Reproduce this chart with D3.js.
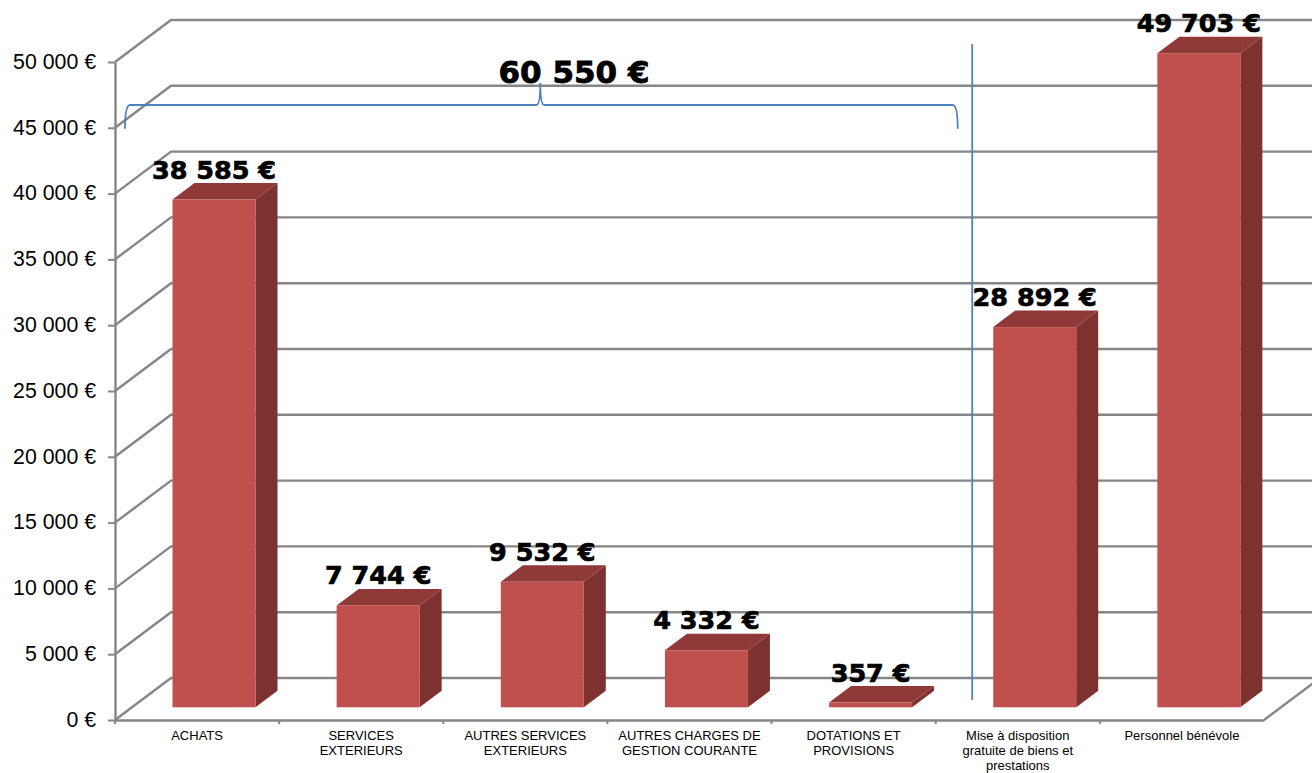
<!DOCTYPE html>
<html lang="fr">
<head>
    <meta charset="UTF-8">
    <title>Charges par poste</title>
    <script src="https://d3js.org/d3.v7.min.js"></script>
    <style>
        body { margin: 0; background: #fff; }
        svg { display: block; }
        text { font-family: "Liberation Sans", Arial, sans-serif; fill: #000; }
        .grid { fill: none; stroke: #868686; stroke-width: 2.4; }
        .value-label { font-family: "DejaVu Sans", Verdana, sans-serif; font-weight: bold; font-size: 25.5px; text-anchor: middle; stroke: #000; stroke-width: 0.7; }
        .total-label { font-family: "DejaVu Sans", Verdana, sans-serif; font-weight: bold; font-size: 31px; text-anchor: middle; stroke: #000; stroke-width: 0.8; }
        .note { fill: none; stroke: #4f81bd; stroke-width: 1.8; }
    </style>
</head>
<body>
    <svg width="1312" height="773"></svg>

    <script>
        // Chart data
        const categories = ["ACHATS", "SERVICES EXTERIEURS", "AUTRES SERVICES EXTERIEURS",
            "AUTRES CHARGES DE GESTION COURANTE", "DOTATIONS ET PROVISIONS",
            "Mise à disposition gratuite de biens et prestations", "Personnel bénévole"];
        const tickLines = [["ACHATS"], ["SERVICES", "EXTERIEURS"], ["AUTRES SERVICES", "EXTERIEURS"],
            ["AUTRES CHARGES DE", "GESTION COURANTE"], ["DOTATIONS ET", "PROVISIONS"],
            ["Mise à disposition", "gratuite de biens et", "prestations"], ["Personnel bénévole"]];
        const values = [38585, 7744, 9532, 4332, 357, 28892, 49703];
        const yTicks = [0, 5000, 10000, 15000, 20000, 25000, 30000, 35000, 40000, 45000, 50000];
        const groupedTotal = 60550;

        const svg = d3.select("svg");
        const fr = d3.formatLocale({ decimal: ",", thousands: " ", grouping: [3], currency: ["", " €"] });
        const euro = d => fr.format(",")(d) + " €";

        // Scales on the front plane of the chart
        const x = d3.scaleBand().domain(categories).range([115, 1264]);
        const y = d3.scaleLinear().domain([0, 50000]).range([720, 62]);

        // 3D offsets: back wall and bar depth
        const wall = { dx: 56, dy: -42 };
        const depth = { dx: 22, dy: -16.5 };
        const barShift = { left: 57.5, width: 83, up: 12.7 };

        // Walls and gridlines
        svg.append("g").selectAll("path")
            .data(yTicks)
            .join("path")
            .attr("class", "grid")
            .attr("d", d => `M${x.range()[0]},${y(d)}l${wall.dx},${wall.dy}H1330`);

        // Right edge of the floor
        svg.append("path")
            .attr("class", "grid")
            .attr("d", `M${x.range()[1]},${y(0)}l${wall.dx},${wall.dy}`);

        // Axes
        const yAxis = svg.append("g")
            .attr("transform", `translate(${x.range()[0]},0)`)
            .call(d3.axisLeft(y).tickValues(yTicks).tickFormat(euro).tickSize(7).tickPadding(12).tickSizeOuter(0));
        yAxis.selectAll("text").attr("font-size", 21.3).attr("font-family", "Liberation Sans").attr("dy", "0.30em");
        yAxis.selectAll("line").attr("stroke", "#868686").attr("stroke-width", 2);
        yAxis.select(".domain").attr("stroke", "#868686").attr("stroke-width", 2.4);

        const xAxis = svg.append("g")
            .attr("transform", `translate(0,${y(0)})`)
            .call(d3.axisBottom(x).tickSize(0).tickFormat(""));
        xAxis.select(".domain").attr("stroke", "#868686").attr("stroke-width", 2.4);
        xAxis.selectAll(".edge")
            .data(categories)
            .join("line")
            .attr("class", "edge")
            .attr("x1", d => x(d))
            .attr("x2", d => x(d))
            .attr("y1", 0)
            .attr("y2", 4)
            .attr("stroke", "#868686")
            .attr("stroke-width", 2);

        const tickText = xAxis.selectAll(".cat")
            .data(categories)
            .join("text")
            .attr("class", "cat")
            .attr("text-anchor", "middle")
            .attr("font-size", 13)
            .attr("x", d => x(d) + x.bandwidth() / 2)
            .attr("y", 20);
        tickText.selectAll("tspan")
            .data((d, i) => tickLines[i])
            .join("tspan")
            .attr("x", function () { return d3.select(this.parentNode).attr("x"); })
            .attr("dy", (d, i) => i ? 15 : 0)
            .text(d => d);

        // Bars: one group with front, top and side faces
        const bars = svg.append("g").selectAll("g")
            .data(categories.map((c, i) => ({ c, v: values[i] })))
            .join("g")
            .attr("transform", d => `translate(${x(d.c) + barShift.left},${-barShift.up})`);

        const h = d => y(d.v);
        bars.append("path")
            .attr("fill", "#7d3230")
            .attr("d", d => `M${barShift.width},${h(d)}l${depth.dx},${depth.dy}V${y(0) + depth.dy}l${-depth.dx},${-depth.dy}Z`);
        bars.append("path")
            .attr("fill", "#8f3a38")
            .attr("d", d => `M0,${h(d)}l${depth.dx},${depth.dy}h${barShift.width}l${-depth.dx},${-depth.dy}Z`);
        bars.append("rect")
            .attr("fill", "#c0504d")
            .attr("width", barShift.width)
            .attr("y", d => h(d))
            .attr("height", d => y(0) - h(d));

        // Bracket and divider, placed relative to the categories they split
        const bracketLeft = x(categories[0]) + 10;
        const bracketRight = x(categories[5]) + 22;
        const bracketMid = x(categories[2]) + 97;
        const bracketY = 105;
        const bracketEnd = y(45000) + 1;
        svg.append("path")
            .attr("class", "note")
            .attr("d", `M${bracketLeft},${bracketEnd}Q${bracketLeft},${bracketY} ${bracketLeft + 5},${bracketY}`
                + `H${bracketMid - 4}Q${bracketMid},${bracketY} ${bracketMid},83`
                + `Q${bracketMid},${bracketY} ${bracketMid + 4},${bracketY}`
                + `H${bracketRight - 5}Q${bracketRight},${bracketY} ${bracketRight},${bracketEnd}`);
        svg.append("line")
            .attr("class", "note")
            .attr("x1", x(categories[5]) + 36.5)
            .attr("x2", x(categories[5]) + 36.5)
            .attr("y1", 44)
            .attr("y2", 700);

        // Value labels
        bars.append("text")
            .attr("class", "value-label")
            .attr("x", barShift.width / 2)
            .attr("y", d => h(d) - 21)
            .text(d => euro(d.v));

        svg.append("text")
            .attr("class", "total-label")
            .attr("x", 574)
            .attr("y", 82.5)
            .text(euro(groupedTotal));
    </script>
</body>
</html>
